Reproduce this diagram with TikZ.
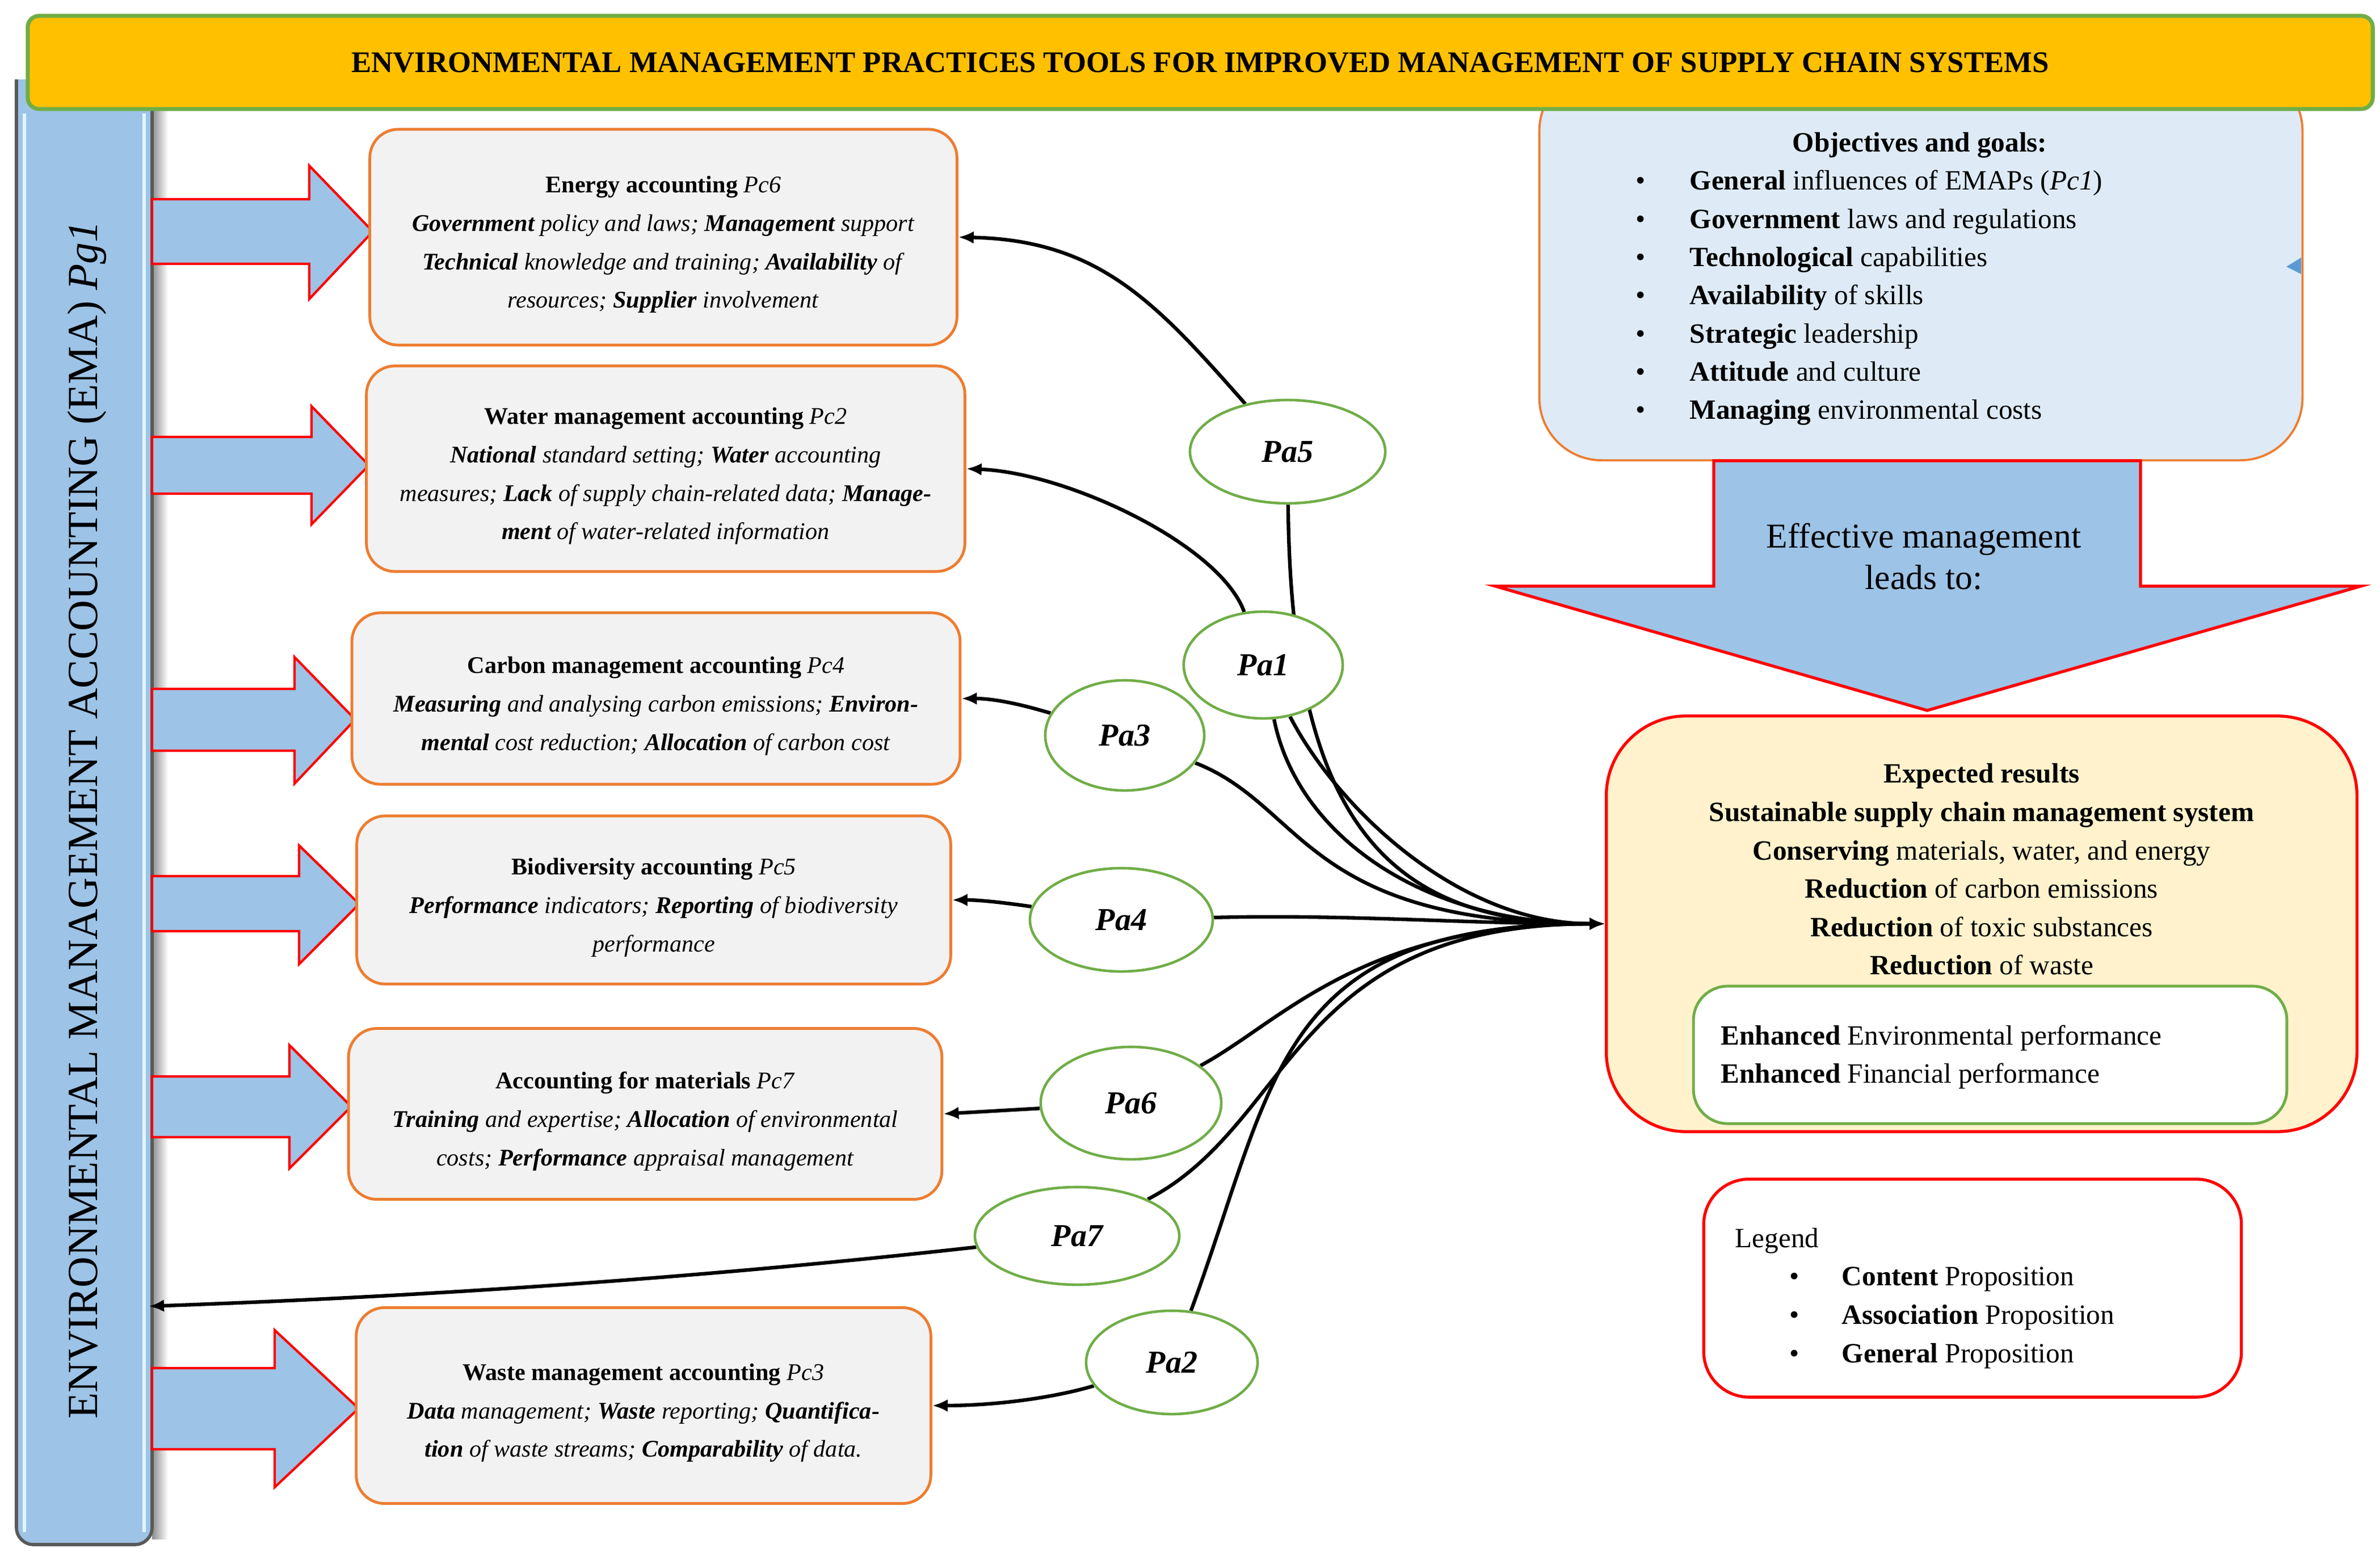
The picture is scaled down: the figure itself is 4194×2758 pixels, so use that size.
\documentclass[tikz,border=0pt]{standalone}
\usepackage{fontspec}
\setmainfont{Liberation Serif}
\usetikzlibrary{arrows.meta,shapes.geometric}
\pgfdeclarelayer{bg}
\pgfdeclarelayer{conn}
\pgfsetlayers{bg,conn,main}
\definecolor{barblue}{HTML}{9DC3E6}
\definecolor{boxorange}{HTML}{ED7D31}
\definecolor{boxgray}{HTML}{F2F2F2}
\definecolor{titleyellow}{HTML}{FFC000}
\definecolor{grn}{HTML}{70AD47}
\definecolor{objblue}{HTML}{DEEBF7}
\definecolor{resyellow}{HTML}{FFF2CC}
\definecolor{tri}{HTML}{5B9BD5}
\newcommand{\blt}{\makebox[0.95cm][l]{\textbullet}}
\newcommand{\lblt}{\makebox[0.92cm][l]{\textbullet}}
\tikzset{
  pcbox/.style={draw=boxorange, line width=1.4pt, fill=boxgray, rounded corners=0.5cm, inner sep=0pt},
  pctext/.style={inner sep=0pt, align=center, font=\fontsize{12}{19.3}\selectfont},
  paell/.style={ellipse, draw=grn, line width=1.3pt, fill=white, inner sep=0pt,
    font=\fontsize{16}{19}\selectfont\bfseries\itshape},
  blockarrow/.style={draw=red, line width=1.2pt, fill=barblue},
  conn/.style={line width=1.8pt, -{Latex[length=0.27cm,width=0.22cm]}},
  redbox/.style={draw=red, line width=1.5pt, inner sep=0pt},
}
\begin{document}
\begin{tikzpicture}[x=0.01cm,y=-0.01cm]
\useasboundingbox (0,0) rectangle (4194,2758);

% ---------- left EMA bar (background layer) ----------
\begin{pgfonlayer}{bg}
  \shade[left color=black!45, right color=white] (268,180) rectangle (296,2712);
  \filldraw[fill=barblue, draw=black!65, line width=1.6pt, rounded corners=0.3cm]
    (29,140) -- (29,2722) -- (268,2722) -- (268,140);
  \draw[cyan!12, line width=1.5pt] (43,200) -- (43,2700);
  \draw[cyan!12, line width=1.5pt] (254,200) -- (254,2700);
\end{pgfonlayer}
\node[rotate=90, font=\fontsize{21.5}{24}\selectfont] (ematext) at (153,1445)
  {ENVIRONMENTAL MANAGEMENT ACCOUNTING (EMA) \textit{Pg1}};
\coordinate (emaT) at (262,2302);

% ---------- block arrows ----------
\draw[blockarrow] (268,351) -- (545,351) -- (545,292) -- (657,408) -- (545,527) -- (545,465) -- (268,465) -- cycle;
\draw[blockarrow] (268,770) -- (549,770) -- (549,716) -- (650,820) -- (549,924) -- (549,870) -- (268,870) -- cycle;
\draw[blockarrow] (268,1214) -- (519,1214) -- (519,1158) -- (626,1268) -- (519,1381) -- (519,1323) -- (268,1323) -- cycle;
\draw[blockarrow] (268,1544) -- (527,1544) -- (527,1490) -- (633,1593) -- (527,1699) -- (527,1641) -- (268,1641) -- cycle;
\draw[blockarrow] (268,1897) -- (510,1897) -- (510,1842) -- (619,1950) -- (510,2059) -- (510,2004) -- (268,2004) -- cycle;
\draw[blockarrow] (268,2411) -- (484,2411) -- (484,2344) -- (632,2482) -- (484,2621) -- (484,2554) -- (268,2554) -- cycle;

% ---------- component boxes ----------
\node[pcbox, minimum width=10.34cm, minimum height=3.80cm] (pc6) at (1169,418) {};
\node[pctext] (pc6t) at (1169,431) {%
  \textbf{Energy accounting} \textit{Pc6}\\
  \textit{\textbf{Government} policy and laws; \textbf{Management} support}\\
  \textit{\textbf{Technical} knowledge and training; \textbf{Availability} of}\\
  \textit{resources; \textbf{Supplier} involvement}};
\node[pcbox, minimum width=10.54cm, minimum height=3.62cm] (pc2) at (1173,826) {};
\node[pctext] (pc2t) at (1173,839) {%
  \textbf{Water management accounting} \textit{Pc2}\\
  \textit{\textbf{National} standard setting; \textbf{Water} accounting}\\
  \textit{measures; \textbf{Lack} of supply chain-related data; \textbf{Manage-}}\\
  \textit{\textbf{ment} of water-related information}};
\node[pcbox, minimum width=10.71cm, minimum height=3.02cm] (pc4) at (1156,1231) {};
\node[pctext] (pc4t) at (1156,1244) {%
  \textbf{Carbon management accounting} \textit{Pc4}\\
  \textit{\textbf{Measuring} and analysing carbon emissions; \textbf{Environ-}}\\
  \textit{\textbf{mental} cost reduction; \textbf{Allocation} of carbon cost}};
\node[pcbox, minimum width=10.46cm, minimum height=2.96cm] (pc5) at (1152,1586) {};
\node[pctext] (pc5t) at (1152,1599) {%
  \textbf{Biodiversity accounting} \textit{Pc5}\\
  \textit{\textbf{Performance} indicators; \textbf{Reporting} of biodiversity}\\
  \textit{performance}};
\node[pcbox, minimum width=10.45cm, minimum height=3.01cm] (pc7) at (1137,1963) {};
\node[pctext] (pc7t) at (1137,1976) {%
  \textbf{Accounting for materials} \textit{Pc7}\\
  \textit{\textbf{Training} and expertise; \textbf{Allocation} of environmental}\\
  \textit{costs; \textbf{Performance} appraisal management}};
\node[pcbox, minimum width=10.12cm, minimum height=3.45cm] (pc3) at (1134,2477) {};
\node[pctext] (pc3t) at (1134,2490) {%
  \textbf{Waste management accounting} \textit{Pc3}\\
  \textit{\textbf{Data} management; \textbf{Waste} reporting; \textbf{Quantifica-}}\\
  \textit{\textbf{tion} of waste streams; \textbf{Comparability} of data.}};

% ---------- right side boxes ----------
\node[draw=boxorange, line width=1.1pt, fill=objblue, rounded corners=1.1cm,
  minimum width=13.44cm, minimum height=6.9cm, inner sep=0pt] (obj) at (3385,466) {};
\node[font=\fontsize{14}{19}\selectfont\bfseries, inner sep=0pt] (objhead) at (3383,256) {Objectives and goals:};
\node[anchor=west, align=left, inner sep=0pt, font=\fontsize{14}{19.15}\selectfont] (objlist) at (2882,525) {%
  \blt\textbf{General} influences of EMAPs (\textit{Pc1})\\
  \blt\textbf{Government} laws and regulations\\
  \blt\textbf{Technological} capabilities\\
  \blt\textbf{Availability} of skills\\
  \blt\textbf{Strategic} leadership\\
  \blt\textbf{Attitude} and culture\\
  \blt\textbf{Managing} environmental costs};
\fill[tri] (4055,454) -- (4055,483) -- (4029,470) -- cycle;

\draw[draw=red, line width=1.5pt, fill=barblue] (3020,812) -- (3772,812) -- (3772,1033) -- (4160,1033)
  -- (3396,1252) -- (2635,1033) -- (3020,1033) -- cycle;
\node[align=center, inner sep=0pt, font=\fontsize{17.5}{20.8}\selectfont] (eff) at (3390,981)
  {Effective management\\leads to:};

\node[redbox, fill=resyellow, rounded corners=1.4cm, minimum width=13.22cm, minimum height=7.32cm] (res) at (3492,1628) {};
\node[align=center, inner sep=0pt, font=\fontsize{14}{19.2}\selectfont] (restext) at (3492,1532) {%
  \textbf{Expected results}\\
  \textbf{Sustainable supply chain management system}\\
  \textbf{Conserving} materials, water, and energy\\
  \textbf{Reduction} of carbon emissions\\
  \textbf{Reduction} of toxic substances\\
  \textbf{Reduction} of waste};
\node[draw=grn, line width=1.4pt, fill=white, rounded corners=0.6cm, minimum width=10.45cm,
  minimum height=2.42cm, inner sep=0pt] (enh) at (3507,1859) {};
\node[anchor=west, align=left, inner sep=0pt, font=\fontsize{14}{19.1}\selectfont] (enhtext) at (3032,1863) {%
  \textbf{Enhanced} Environmental performance\\
  \textbf{Enhanced} Financial performance};

\node[redbox, fill=white, rounded corners=0.8cm, minimum width=9.47cm, minimum height=3.84cm] (legend) at (3476,2270) {};
\node[anchor=west, align=left, inner sep=0pt, font=\fontsize{14}{19.3}\selectfont] (legtext) at (3057,2288) {%
  Legend\\
  \hspace*{0.96cm}\lblt\textbf{Content} Proposition\\
  \hspace*{0.96cm}\lblt\textbf{Association} Proposition\\
  \hspace*{0.96cm}\lblt\textbf{General} Proposition};

% ---------- association ellipses ----------
\node[paell, minimum width=3.44cm, minimum height=1.82cm] (pa5) at (2269,796) {Pa5};
\node[paell, minimum width=2.80cm, minimum height=1.88cm] (pa1) at (2226,1172) {Pa1};
\node[paell, minimum width=2.80cm, minimum height=1.94cm] (pa3) at (1982,1296) {Pa3};
\node[paell, minimum width=3.22cm, minimum height=1.82cm] (pa4) at (1976,1621) {Pa4};
\node[paell, minimum width=3.18cm, minimum height=1.98cm] (pa6) at (1993,1944) {Pa6};
\node[paell, minimum width=3.60cm, minimum height=1.72cm] (pa7) at (1898,2178) {Pa7};
\node[paell, minimum width=3.02cm, minimum height=1.82cm] (pa2) at (2065,2401) {Pa2};

% ---------- connectors ----------
\begin{pgfonlayer}{conn}
  \draw[conn] (pa5) .. controls +(-230,-260) and +(250,5) .. (pc6.east);
  \draw[conn] (pa1) .. controls +(-76,-212) and +(178,7) .. (pc2.east);
  \draw[conn] (pa3) .. controls +(-150,-45) and +(70,0) .. (pc4.east);
  \draw[conn] (pa4) .. controls +(-170,-25) and +(60,0) .. (pc5.east);
  \draw[conn] (pa6) -- (pc7.east);
  \draw[conn] (pa2) .. controls +(-200,60) and +(120,0) .. (pc3.east);
  \draw[conn] (pa7) .. controls +(-450,50) and +(700,-25) .. (emaT);
  \draw[conn] (pa5) .. controls +(6,654) and +(-381,0) .. (res.west);
  \draw[conn] (pa1) .. controls +(60,300) and +(-320,0) .. (res.west);
  \draw[conn] (pa1) .. controls +(130,250) and +(-260,0) .. (res.west);
  \draw[conn] (pa3) .. controls +(318,124) and +(-531,0) .. (res.west);
  \draw[conn] (pa4) .. controls +(400,-10) and +(-250,0) .. (res.west);
  \draw[conn] (pa6) .. controls +(267,-144) and +(-431,0) .. (res.west);
  \draw[conn] (pa7) .. controls +(382,-198) and +(-551,0) .. (res.west);
  \draw[conn] (pa2) .. controls +(185,-501) and +(-581,0) .. (res.west);
\end{pgfonlayer}

% ---------- title bar ----------
\node[draw=grn, line width=2pt, fill=titleyellow, rounded corners=0.2cm, minimum width=41.3cm,
  minimum height=1.64cm, inner sep=0pt, font=\fontsize{15}{18}\selectfont\bfseries] (title) at (2115,110)
  {ENVIRONMENTAL MANAGEMENT PRACTICES TOOLS FOR IMPROVED MANAGEMENT OF SUPPLY CHAIN SYSTEMS};
\end{tikzpicture}
\end{document}
